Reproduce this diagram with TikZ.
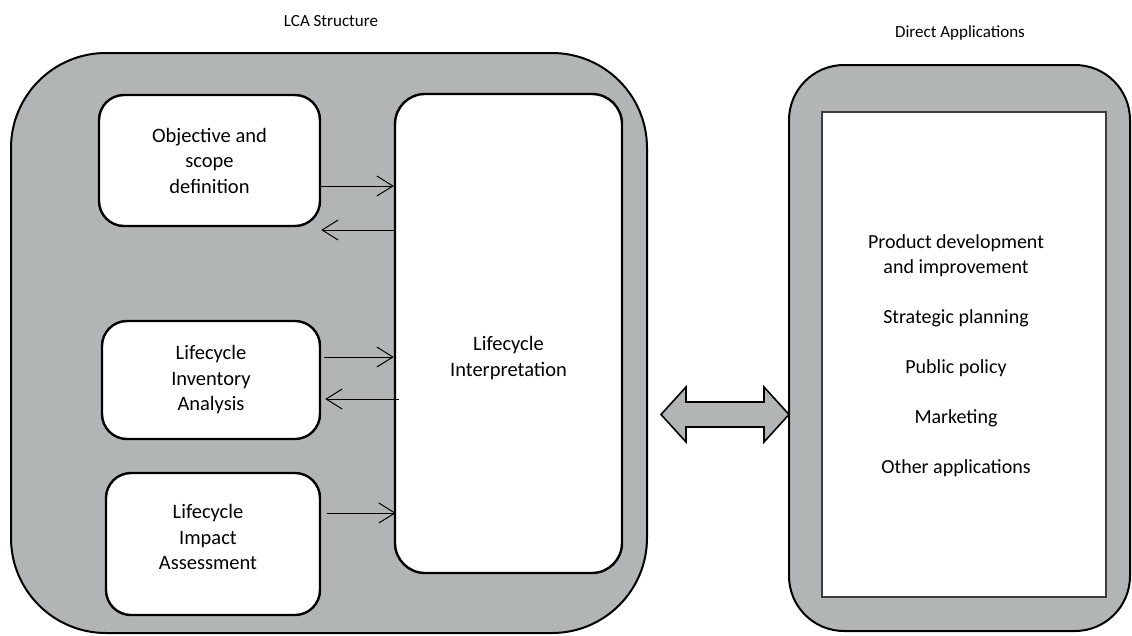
\documentclass[tikz,border=0pt]{standalone}
\usepackage{fontspec}
\setmainfont{Carlito}
\usetikzlibrary{arrows.meta,calc}
\definecolor{panelgray}{RGB}{178,181,181}
\definecolor{framegray}{RGB}{60,60,60}
\tikzset{
  panel/.style={draw=black, line width=2pt, fill=panelgray, rounded corners=#1, inner sep=0pt},
  stagebox/.style={draw=black, line width=2.4pt, fill=white, rounded corners=#1, inner sep=0pt, align=center,
    font=\fontsize{20.5}{25.5}\selectfont},
  listframe/.style={draw=framegray, line width=1.2pt, fill=white, inner sep=0pt},
  txt/.style={align=center, inner sep=0pt, font=\fontsize{20.5}{25.5}\selectfont},
  listtxt/.style={align=center, inner sep=0pt, font=\fontsize{20}{25}\selectfont},
  ttl/.style={inner sep=0pt, font=\fontsize{17}{20}\selectfont},
  flow/.style={line width=1pt, -{Straight Barb[length=16pt,width=20pt,line width=1pt]}},
  bigarrow/.style={draw=black, line width=1.6pt, fill=panelgray, line join=miter}
}
\begin{document}
\begin{tikzpicture}[x=1pt,y=-1pt]
\useasboundingbox (0,0) rectangle (1132,635);
% titles
\node[ttl] (t1) at (331,21) {LCA Structure};
\node[ttl] (t2) at (960,33) {Direct Applications};
% panels
\node[panel=95pt, minimum width=636pt, minimum height=580pt] (lca) at (329,343) {};
\node[panel=55pt, minimum width=341pt, minimum height=566pt] (app) at (959.5,348) {};
\node[listframe, minimum width=284pt, minimum height=485pt] (list) at (964,354.5) {};
% stages
\node[stagebox=25pt, minimum width=221pt, minimum height=131pt] (obj) at (209.5,160.5) {Objective and\\scope\\definition};
\node[stagebox=25pt, minimum width=218pt, minimum height=118pt] (inv) at (211,380) {Lifecycle\\Inventory\\Analysis};
\node[stagebox=25pt, minimum width=214pt, minimum height=142pt] (imp) at (213,544) {};
\node[txt] (impt) at (208,537) {Lifecycle\\Impact\\Assessment};
\node[stagebox=30pt, minimum width=227pt, minimum height=479pt] (interp) at (508.5,333.5) {};
\node[txt] (interpt) at (508.5,358) {Lifecycle\\Interpretation};
% list text
\node[listtxt] (apps) at (956,356) {Product development\\and improvement\\[25pt]Strategic planning\\[25pt]Public policy\\[25pt]Marketing\\[25pt]Other applications};
% flows
\draw[flow] (obj.east |- 0,186) -- (interp.west |- 0,186);
\draw[flow] (interp.west |- 0,230) -- (obj.east |- 0,230);
\draw[flow, shorten <=3pt] (inv.east |- 0,357) -- (interp.west |- 0,357);
\draw[flow, shorten >=4pt] ([xshift=5pt]interp.west |- 0,399) -- (inv.east |- 0,399);
\draw[flow, shorten <=6pt, shorten >=-2pt] (imp.east |- 0,513) -- (interp.west |- 0,513);
% double arrow between panels
\draw[bigarrow] (661,414.5) -- (686,387) -- (686,402) -- (764,402) -- (764,387) -- (789,414.5)
  -- (764,442) -- (764,427) -- (686,427) -- (686,442) -- cycle;
\end{tikzpicture}
\end{document}
